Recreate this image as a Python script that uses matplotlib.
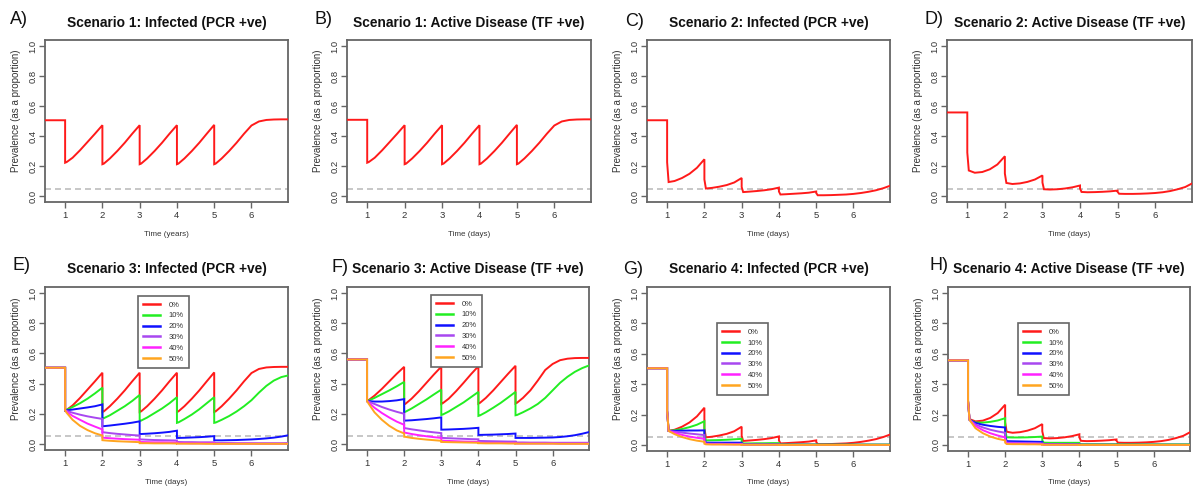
import matplotlib
matplotlib.use("Agg")
import matplotlib.pyplot as plt

plt.rcParams['font.family'] = ['Liberation Sans', 'DejaVu Sans']

W, H = 1195, 488

# ---------------- data ----------------
# time grid: start, pre-drop at 1, then 5 segments (k, k+.04, k+.2 ... k+1), then tail
TIME = [0.40, 1.0,
        1.0, 1.04, 1.2, 1.4, 1.6, 1.8, 2.0,
        2.0, 2.04, 2.2, 2.4, 2.6, 2.8, 3.0,
        3.0, 3.04, 3.2, 3.4, 3.6, 3.8, 4.0,
        4.0, 4.04, 4.2, 4.4, 4.6, 4.8, 5.0,
        5.0, 5.04, 5.2, 5.4, 5.6, 5.8, 6.0,
        6.2, 6.4, 6.6, 6.8, 7.0]

X_TICKS = [1, 2, 3, 4, 5, 6]
Y_TICKS = [0.0, 0.2, 0.4, 0.6, 0.8, 1.0]
Y_TICK_LABELS = ["0.0", "0.2", "0.4", "0.6", "0.8", "1.0"]
THRESHOLD = 0.05

COVERAGE_LABELS = ["0%", "10%", "20%", "30%", "40%", "50%"]
COVERAGE_COLORS = ["#FF1A1A", "#22EE22", "#1010FF", "#A848F0", "#FF22FF", "#FFA520"]

PANEL_LETTERS = ["A)", "B)", "C)", "D)", "E)", "F)", "G)", "H)"]
PANEL_TITLES = ["Scenario 1: Infected (PCR +ve)", "Scenario 1: Active Disease (TF +ve)",
                "Scenario 2: Infected (PCR +ve)", "Scenario 2: Active Disease (TF +ve)",
                "Scenario 3: Infected (PCR +ve)", "Scenario 3: Active Disease (TF +ve)",
                "Scenario 4: Infected (PCR +ve)", "Scenario 4: Active Disease (TF +ve)"]
X_LABELS = ["Time (years)", "Time (days)", "Time (days)", "Time (days)",
            "Time (days)", "Time (days)", "Time (days)", "Time (days)"]
Y_LABEL = "Prevalence (as a proportion)"

# Scenario 1
s1_infected = [0.505, 0.505,
               0.222, 0.226, 0.255, 0.305, 0.360, 0.415, 0.472,
               0.212, 0.216, 0.250, 0.300, 0.355, 0.415, 0.472,
               0.212, 0.216, 0.250, 0.300, 0.355, 0.415, 0.472,
               0.212, 0.216, 0.250, 0.300, 0.355, 0.415, 0.474,
               0.212, 0.216, 0.250, 0.300, 0.355, 0.415, 0.470,
               0.497, 0.507, 0.510, 0.511, 0.511]
s1_active = [0.508, 0.508,
             0.222, 0.226, 0.255, 0.305, 0.360, 0.415, 0.472,
             0.212, 0.216, 0.250, 0.300, 0.355, 0.415, 0.472,
             0.212, 0.216, 0.250, 0.300, 0.355, 0.415, 0.472,
             0.212, 0.216, 0.250, 0.300, 0.355, 0.415, 0.474,
             0.212, 0.216, 0.250, 0.300, 0.355, 0.415, 0.470,
             0.497, 0.507, 0.510, 0.511, 0.511]

# Scenario 2
s2_infected = [0.505, 0.505,
               0.225, 0.093, 0.100, 0.120, 0.148, 0.188, 0.245,
               0.110, 0.050, 0.054, 0.062, 0.073, 0.090, 0.120,
               0.060, 0.026, 0.029, 0.033, 0.038, 0.045, 0.056,
               0.030, 0.010, 0.012, 0.015, 0.018, 0.022, 0.030,
               0.020, 0.005, 0.005, 0.006, 0.008, 0.010, 0.014,
               0.020, 0.028, 0.038, 0.052, 0.070]
s2_active = [0.557, 0.557,
             0.290, 0.170, 0.155, 0.160, 0.178, 0.210, 0.265,
             0.150, 0.087, 0.080, 0.084, 0.094, 0.110, 0.137,
             0.090, 0.045, 0.043, 0.045, 0.050, 0.058, 0.070,
             0.050, 0.027, 0.025, 0.026, 0.028, 0.031, 0.036,
             0.028, 0.015, 0.014, 0.014, 0.015, 0.017, 0.020,
             0.025, 0.033, 0.045, 0.060, 0.086]

# Scenario 3: Infected (coverage 0%..50%)
s3_inf_0 = s1_infected
s3_inf_10 = [0.505, 0.505,
             0.222, 0.226, 0.245, 0.270, 0.300, 0.335, 0.373,
             0.168, 0.171, 0.190, 0.220, 0.250, 0.285, 0.325,
             0.152, 0.155, 0.175, 0.205, 0.235, 0.270, 0.310,
             0.140, 0.143, 0.165, 0.195, 0.230, 0.270, 0.310,
             0.140, 0.142, 0.160, 0.185, 0.215, 0.250, 0.290,
             0.340, 0.385, 0.420, 0.443, 0.455]
s3_inf_20 = [0.505, 0.505,
             0.222, 0.223, 0.228, 0.235, 0.242, 0.250, 0.262,
             0.118, 0.118, 0.122, 0.128, 0.134, 0.141, 0.150,
             0.066, 0.066, 0.068, 0.071, 0.075, 0.080, 0.088,
             0.040, 0.040, 0.041, 0.043, 0.045, 0.048, 0.052,
             0.024, 0.024, 0.024, 0.025, 0.026, 0.028, 0.030,
             0.033, 0.037, 0.042, 0.049, 0.058]
s3_inf_30 = [0.505, 0.505,
             0.222, 0.219, 0.207, 0.194, 0.183, 0.174, 0.166,
             0.078, 0.077, 0.072, 0.067, 0.063, 0.059, 0.056,
             0.030, 0.030, 0.028, 0.026, 0.025, 0.024, 0.023,
             0.013, 0.013, 0.012, 0.012, 0.011, 0.011, 0.011,
             0.006, 0.006, 0.006, 0.006, 0.005, 0.005, 0.005,
             0.005, 0.005, 0.005, 0.005, 0.006]
s3_inf_40 = [0.505, 0.505,
             0.222, 0.214, 0.186, 0.160, 0.135, 0.115, 0.096,
             0.042, 0.041, 0.038, 0.035, 0.032, 0.030, 0.028,
             0.013, 0.013, 0.012, 0.011, 0.011, 0.010, 0.010,
             0.005, 0.005, 0.005, 0.004, 0.004, 0.004, 0.004,
             0.002, 0.002, 0.002, 0.002, 0.002, 0.002, 0.002,
             0.001, 0.001, 0.001, 0.001, 0.001]
s3_inf_50 = [0.505, 0.505,
             0.222, 0.207, 0.160, 0.120, 0.092, 0.071, 0.056,
             0.025, 0.024, 0.021, 0.018, 0.016, 0.014, 0.012,
             0.005, 0.005, 0.005, 0.004, 0.004, 0.004, 0.003,
             0.002, 0.002, 0.002, 0.002, 0.002, 0.001, 0.001,
             0.001, 0.001, 0.001, 0.001, 0.001, 0.001, 0.001,
             0.001, 0.001, 0.001, 0.001, 0.001]

# Scenario 3: Active disease
s3_act_0 = [0.560, 0.560,
            0.285, 0.290, 0.320, 0.365, 0.415, 0.465, 0.511,
            0.262, 0.267, 0.300, 0.350, 0.405, 0.460, 0.512,
            0.265, 0.270, 0.300, 0.350, 0.405, 0.462, 0.515,
            0.267, 0.272, 0.305, 0.355, 0.410, 0.465, 0.518,
            0.268, 0.273, 0.305, 0.355, 0.420, 0.490, 0.530,
            0.555, 0.565, 0.569, 0.570, 0.570]
s3_act_10 = [0.560, 0.560,
             0.285, 0.287, 0.305, 0.330, 0.355, 0.382, 0.411,
             0.211, 0.214, 0.235, 0.265, 0.295, 0.328, 0.360,
             0.192, 0.195, 0.215, 0.245, 0.275, 0.310, 0.345,
             0.186, 0.189, 0.210, 0.240, 0.272, 0.308, 0.345,
             0.190, 0.192, 0.210, 0.235, 0.265, 0.305, 0.355,
             0.405, 0.445, 0.478, 0.503, 0.522]
s3_act_20 = [0.560, 0.560,
             0.285, 0.284, 0.281, 0.281, 0.284, 0.289, 0.297,
             0.155, 0.155, 0.157, 0.161, 0.165, 0.170, 0.176,
             0.095, 0.095, 0.096, 0.098, 0.100, 0.103, 0.107,
             0.060, 0.060, 0.061, 0.062, 0.064, 0.066, 0.069,
             0.040, 0.040, 0.040, 0.040, 0.041, 0.042, 0.043,
             0.046, 0.051, 0.058, 0.068, 0.080]
s3_act_30 = [0.560, 0.560,
             0.285, 0.281, 0.265, 0.245, 0.228, 0.213, 0.200,
             0.105, 0.104, 0.097, 0.090, 0.083, 0.077, 0.072,
             0.040, 0.040, 0.038, 0.036, 0.034, 0.032, 0.031,
             0.020, 0.020, 0.019, 0.018, 0.017, 0.016, 0.016,
             0.010, 0.010, 0.010, 0.009, 0.009, 0.009, 0.008,
             0.008, 0.008, 0.008, 0.008, 0.008]
s3_act_40 = [0.560, 0.560,
             0.285, 0.275, 0.240, 0.205, 0.175, 0.148, 0.127,
             0.075, 0.074, 0.066, 0.058, 0.051, 0.045, 0.040,
             0.022, 0.022, 0.020, 0.018, 0.016, 0.015, 0.014,
             0.008, 0.008, 0.007, 0.007, 0.007, 0.006, 0.006,
             0.003, 0.003, 0.003, 0.003, 0.003, 0.003, 0.003,
             0.002, 0.002, 0.002, 0.002, 0.002]
s3_act_50 = [0.560, 0.560,
             0.285, 0.268, 0.210, 0.160, 0.120, 0.090, 0.070,
             0.048, 0.047, 0.040, 0.034, 0.029, 0.025, 0.021,
             0.013, 0.013, 0.012, 0.011, 0.010, 0.009, 0.008,
             0.005, 0.005, 0.004, 0.004, 0.004, 0.003, 0.003,
             0.002, 0.002, 0.002, 0.002, 0.002, 0.002, 0.002,
             0.001, 0.001, 0.001, 0.001, 0.001]

# Scenario 4: Infected
s4_inf_0 = s2_infected
s4_inf_10 = [0.505, 0.505,
             0.225, 0.092, 0.097, 0.105, 0.117, 0.133, 0.156,
             0.070, 0.030, 0.031, 0.032, 0.034, 0.037, 0.040,
             0.020, 0.010, 0.010, 0.011, 0.011, 0.012, 0.012,
             0.006, 0.004, 0.004, 0.004, 0.004, 0.004, 0.004,
             0.003, 0.003, 0.003, 0.003, 0.003, 0.003, 0.003,
             0.003, 0.003, 0.003, 0.003, 0.003]
s4_inf_20 = [0.505, 0.505,
             0.225, 0.092, 0.093, 0.094, 0.095, 0.095, 0.096,
             0.040, 0.015, 0.015, 0.015, 0.015, 0.015, 0.015,
             0.008, 0.003, 0.003, 0.003, 0.003, 0.003, 0.003,
             0.001, 0.001, 0.001, 0.001, 0.001, 0.001, 0.001,
             0.001, 0.001, 0.001, 0.001, 0.001, 0.001, 0.001,
             0.001, 0.001, 0.001, 0.001, 0.001]
s4_inf_30 = [0.505, 0.505,
             0.225, 0.092, 0.087, 0.081, 0.075, 0.070, 0.065,
             0.025, 0.009, 0.008, 0.008, 0.007, 0.007, 0.007,
             0.004, 0.002, 0.002, 0.002, 0.002, 0.002, 0.002,
             0.001, 0.001, 0.001, 0.001, 0.001, 0.001, 0.001,
             0.000, 0.000, 0.000, 0.000, 0.000, 0.000, 0.000,
             0.000, 0.000, 0.000, 0.000, 0.000]
s4_inf_40 = [0.505, 0.505,
             0.225, 0.092, 0.080, 0.066, 0.055, 0.047, 0.040,
             0.015, 0.006, 0.005, 0.005, 0.004, 0.004, 0.004,
             0.002, 0.001, 0.001, 0.001, 0.001, 0.001, 0.001,
             0.000, 0.000, 0.000, 0.000, 0.000, 0.000, 0.000,
             0.000, 0.000, 0.000, 0.000, 0.000, 0.000, 0.000,
             0.000, 0.000, 0.000, 0.000, 0.000]
s4_inf_50 = [0.505, 0.505,
             0.225, 0.092, 0.071, 0.052, 0.038, 0.028, 0.021,
             0.008, 0.004, 0.003, 0.003, 0.003, 0.002, 0.002,
             0.001, 0.001, 0.001, 0.001, 0.001, 0.001, 0.001,
             0.000, 0.000, 0.000, 0.000, 0.000, 0.000, 0.000,
             0.000, 0.000, 0.000, 0.000, 0.000, 0.000, 0.000,
             0.000, 0.000, 0.000, 0.000, 0.000]

# Scenario 4: Active disease
s4_act_0 = s2_active
s4_act_10 = [0.557, 0.557,
             0.290, 0.165, 0.148, 0.147, 0.152, 0.161, 0.176,
             0.100, 0.050, 0.049, 0.049, 0.050, 0.052, 0.055,
             0.030, 0.015, 0.014, 0.014, 0.014, 0.014, 0.014,
             0.008, 0.005, 0.005, 0.005, 0.005, 0.005, 0.005,
             0.004, 0.004, 0.004, 0.004, 0.004, 0.004, 0.004,
             0.004, 0.004, 0.004, 0.004, 0.004]
s4_act_20 = [0.557, 0.557,
             0.290, 0.165, 0.145, 0.133, 0.125, 0.119, 0.115,
             0.060, 0.025, 0.024, 0.023, 0.022, 0.021, 0.020,
             0.010, 0.005, 0.005, 0.005, 0.005, 0.004, 0.004,
             0.002, 0.001, 0.001, 0.001, 0.001, 0.001, 0.001,
             0.001, 0.001, 0.001, 0.001, 0.001, 0.001, 0.001,
             0.001, 0.001, 0.001, 0.001, 0.001]
s4_act_30 = [0.557, 0.557,
             0.290, 0.165, 0.135, 0.115, 0.100, 0.089, 0.080,
             0.040, 0.015, 0.014, 0.013, 0.012, 0.011, 0.010,
             0.005, 0.003, 0.003, 0.003, 0.002, 0.002, 0.002,
             0.001, 0.001, 0.001, 0.001, 0.001, 0.001, 0.001,
             0.000, 0.000, 0.000, 0.000, 0.000, 0.000, 0.000,
             0.000, 0.000, 0.000, 0.000, 0.000]
s4_act_40 = [0.557, 0.557,
             0.290, 0.165, 0.125, 0.097, 0.077, 0.062, 0.050,
             0.025, 0.010, 0.009, 0.008, 0.007, 0.007, 0.006,
             0.003, 0.002, 0.002, 0.002, 0.002, 0.001, 0.001,
             0.000, 0.000, 0.000, 0.000, 0.000, 0.000, 0.000,
             0.000, 0.000, 0.000, 0.000, 0.000, 0.000, 0.000,
             0.000, 0.000, 0.000, 0.000, 0.000]
s4_act_50 = [0.557, 0.557,
             0.290, 0.165, 0.110, 0.077, 0.055, 0.040, 0.030,
             0.015, 0.006, 0.005, 0.005, 0.004, 0.004, 0.003,
             0.002, 0.001, 0.001, 0.001, 0.001, 0.001, 0.001,
             0.000, 0.000, 0.000, 0.000, 0.000, 0.000, 0.000,
             0.000, 0.000, 0.000, 0.000, 0.000, 0.000, 0.000,
             0.000, 0.000, 0.000, 0.000, 0.000]

PANEL_SERIES = [
    [s1_infected], [s1_active], [s2_infected], [s2_active],
    [s3_inf_0, s3_inf_10, s3_inf_20, s3_inf_30, s3_inf_40, s3_inf_50],
    [s3_act_0, s3_act_10, s3_act_20, s3_act_30, s3_act_40, s3_act_50],
    [s4_inf_0, s4_inf_10, s4_inf_20, s4_inf_30, s4_inf_40, s4_inf_50],
    [s4_act_0, s4_act_10, s4_act_20, s4_act_30, s4_act_40, s4_act_50],
]

# ---------------- layout (pixels) ----------------
AX_BOXES = [(45, 40, 288, 202), (347, 40, 591, 202), (647, 40, 890, 202), (947, 40, 1192, 202),
            (45, 287, 288, 450), (347, 287, 589, 450), (647, 287, 890, 451), (948, 287, 1190, 451)]
LETTER_POS = [(19, 20), (324, 20), (635, 22), (934, 20),
              (21, 266), (340, 267), (633, 269), (939, 266)]
LEGEND_ANCHORS = [None, None, None, None, (0.383, 0.945), (0.347, 0.951), (0.288, 0.78), (0.289, 0.78)]

fig = plt.figure(figsize=(W / 100, H / 100), dpi=100)
fig.patch.set_facecolor("white")

FRAME = "#666666"
TXT = "#333333"

for i in range(8):
    x0, y0, x1, y1 = AX_BOXES[i]
    ax = fig.add_axes([x0 / W, 1 - y1 / H, (x1 - x0) / W, (y1 - y0) / H])
    series = PANEL_SERIES[i]
    for j, ys in enumerate(series):
        ax.plot(TIME, ys, color=COVERAGE_COLORS[j], lw=1.4, label=COVERAGE_LABELS[j],
                solid_joinstyle="miter", zorder=3 + j)
    ax.axhline(THRESHOLD, color="#bdbdbd", lw=1.2, dashes=(3.6, 2.4), zorder=2)
    ax.set_xlim(0.46, 6.98)
    ax.set_ylim(-0.04, 1.04)
    ax.set_xticks(X_TICKS)
    ax.set_xticklabels([str(t) for t in X_TICKS])
    ax.set_yticks(Y_TICKS)
    ax.set_yticklabels(Y_TICK_LABELS)
    for sp in ax.spines.values():
        sp.set_color(FRAME)
        sp.set_linewidth(1.3)
    ax.tick_params(axis="both", colors=FRAME, labelcolor=TXT, labelsize=6.8, length=4, width=1.0)
    ax.tick_params(axis="x", pad=2.5)
    ax.tick_params(axis="y", pad=1.2, labelrotation=90)
    for lab in ax.get_yticklabels():
        lab.set_va("center")

    cx = (x0 + x1) / 2
    top_row = i < 4
    title_y = 23 if top_row else 269
    xl_y = 235 if top_row else 482
    yl_y = 111 if top_row else 359
    fig.text(cx / W, 1 - title_y / H, PANEL_TITLES[i], ha="center", va="center",
             fontsize=9.9, fontweight="bold", color="#111111")
    lx, ly = LETTER_POS[i]
    fig.text(lx / W, 1 - ly / H, PANEL_LETTERS[i], ha="center", va="center",
             fontsize=13, color="#111111")
    fig.text(cx / W, 1 - xl_y / H, X_LABELS[i], ha="center", va="center",
             fontsize=5.8, color=TXT)
    fig.text((x0 - 29) / W, 1 - yl_y / H, Y_LABEL, ha="center", va="center",
             rotation=90, fontsize=7, color=TXT)

    if LEGEND_ANCHORS[i] is not None:
        leg = ax.legend(loc="upper left", bbox_to_anchor=LEGEND_ANCHORS[i], borderaxespad=0,
                        fontsize=5.5, handlelength=2.2, handletextpad=1.1, labelspacing=0.45,
                        borderpad=0.7, fancybox=False, framealpha=1, edgecolor=FRAME)
        leg.get_frame().set_linewidth(1.2)
        for line in leg.get_lines():
            line.set_linewidth(1.8)
        for t in leg.get_texts():
            t.set_color(TXT)

fig.savefig("out.png", dpi=100, facecolor="white")
